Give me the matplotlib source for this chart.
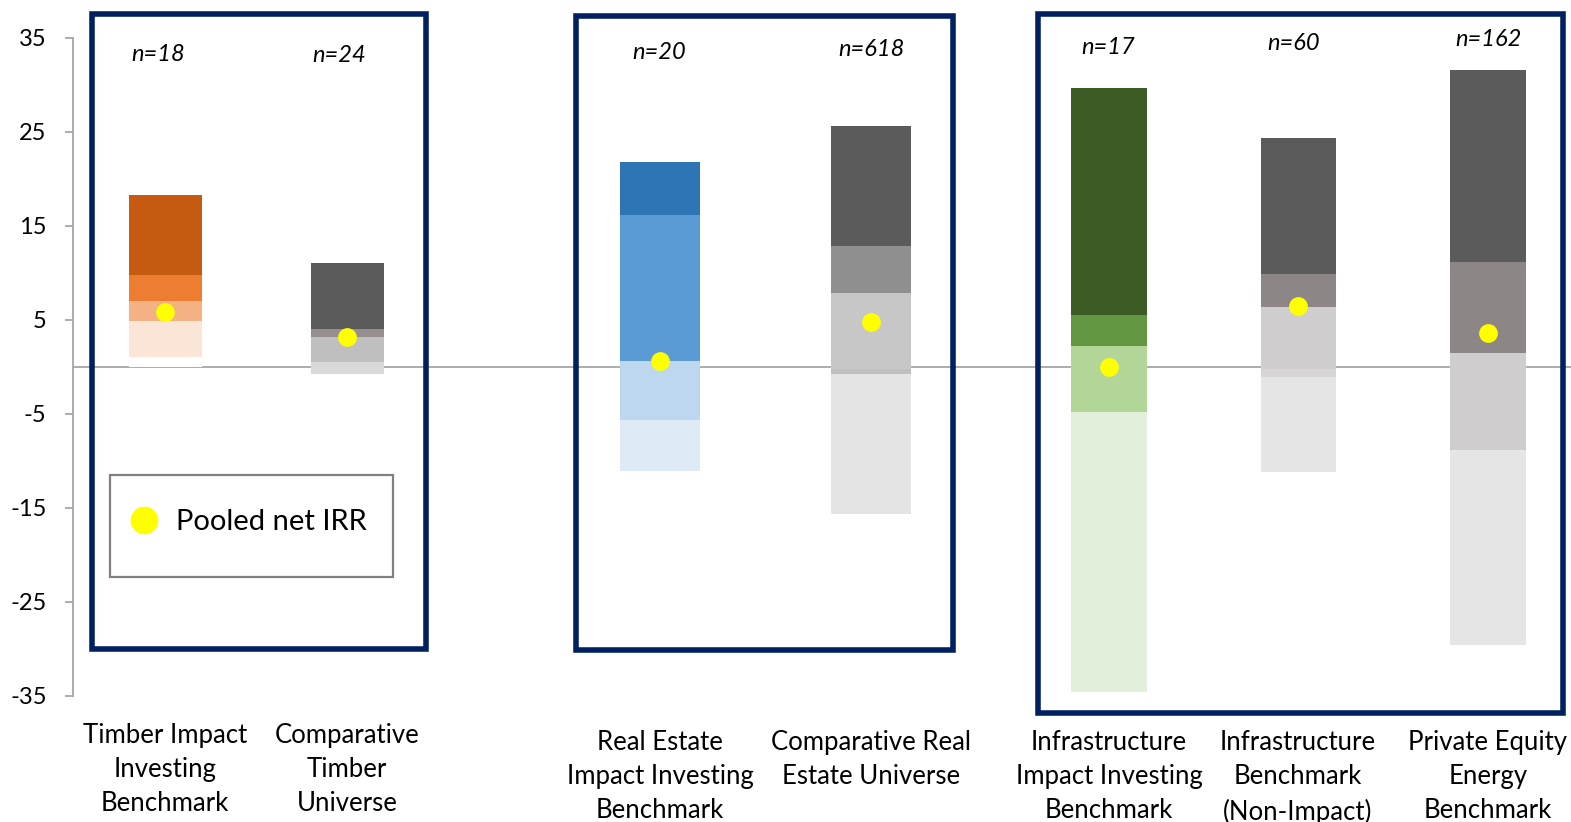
import matplotlib
matplotlib.use("Agg")
import matplotlib.pyplot as plt
from matplotlib.patches import Rectangle

plt.rcParams['font.family'] = ['Lato', 'DejaVu Sans']

# ---------------- data ----------------
categories = [
    "Timber Impact\nInvesting\nBenchmark",
    "Comparative\nTimber\nUniverse",
    "Real Estate\nImpact Investing\nBenchmark",
    "Comparative Real\nEstate Universe",
    "Infrastructure\nImpact Investing\nBenchmark",
    "Infrastructure\nBenchmark\n(Non-Impact)",
    "Private Equity\nEnergy\nBenchmark",
]
n_counts = [18, 24, 20, 618, 17, 60, 162]

# segment boundaries (bottom -> top) for each bar
timber_impact = [0.0, 1.1, 4.9, 7.0, 9.8, 18.3]
comp_timber = [-0.8, 0.5, 3.2, 4.0, 11.0]
re_impact = [-11.1, -5.6, 0.6, 16.1, 21.8]
comp_re = [-15.6, -0.8, -0.2, 7.8, 12.9, 25.6]
infra_impact = [-34.6, -4.8, 2.2, 5.5, 29.6]
infra_nonimpact = [-11.2, -1.1, -0.25, 6.4, 9.9, 24.3]
pe_energy = [-29.6, -8.8, -0.25, 1.5, 11.1, 31.6]

pooled_irr = [5.8, 3.2, 0.6, 4.8, 0.0, 6.5, 3.65]

yticks = [35, 25, 15, 5, -5, -15, -25, -35]

# ---------------- styles ----------------
bounds = [timber_impact, comp_timber, re_impact, comp_re,
          infra_impact, infra_nonimpact, pe_energy]
seg_colors = [
    ["#ffffff", "#fbe5d6", "#f4b183", "#ed7d31", "#c55a11"],
    ["#d9d9d9", "#bfbfbf", "#968f8f", "#5a5a5a"],
    ["#deebf7", "#bdd7ee", "#5b9bd5", "#2e75b6"],
    ["#e4e4e4", "#bfbfbf", "#c8c7c8", "#8f8f8f", "#5b5b5b"],
    ["#e2efda", "#b2d698", "#629640", "#3b5a24"],
    ["#e5e5e5", "#d6d4d5", "#cfcdce", "#8c8686", "#5b5b5b"],
    ["#e5e5e5", "#cfcdce", "#cfcdce", "#8c8686", "#5b5b5b"],
]
xpos = [165, 347, 660, 871, 1109, 1298, 1488]
widths = [73, 73, 80, 80, 76, 75, 76]
label_top_px = [723, 723, 730, 730, 730, 730, 730]
n_pos = [(158, 33.2), (339, 33.1), (659, 33.4), (871, 33.7), (1108, 34.0), (1294, 34.4), (1488, 34.8)]

W, H = 1571, 822
fig = plt.figure(figsize=(W / 100, H / 100), dpi=100)
ax_top, ax_bot = 37.7, 696.0
ax = fig.add_axes([73 / W, 1 - ax_bot / H, (W - 73) / W, (ax_bot - ax_top) / H])
ax.set_xlim(73, W)
ax.set_ylim(-35, 35)


def py(v):
    # pixel row -> data value (layout helper for decorations only)
    return (367.0 - v) / 9.4


# zero line
ax.axhline(0, color="#a6a6a6", lw=1.3, zorder=1)

# bars
for x, w, b, cols in zip(xpos, widths, bounds, seg_colors):
    for i, c in enumerate(cols):
        ax.bar(x, b[i + 1] - b[i], bottom=b[i], width=w, color=c,
               linewidth=0, zorder=2)

# pooled IRR dots
ax.plot(xpos, pooled_irr, "o", color="#ffff00", ms=13.5, mew=0, zorder=5,
        linestyle="none")

# n labels
for (x, y), n in zip(n_pos, n_counts):
    ax.text(x, y, f"n={n}", ha="center", va="center", fontsize=17,
            style="italic", color="black")

# category labels
for x, yp, lab in zip(xpos, label_top_px, categories):
    ax.text(x, py(yp), lab, ha="center", va="top", fontsize=18.5,
            linespacing=1.46, clip_on=False)

# group boxes
box_px = [(92, 14.5, 426, 649), (576, 16, 953, 650), (1037.5, 14.5, 1563, 713)]
for x0, y0, x1, y1 in box_px:
    ax.add_patch(Rectangle((x0, py(y1)), x1 - x0, py(y0) - py(y1), fill=False,
                           edgecolor="#002060", lw=4, clip_on=False, zorder=6))

# legend
ax.add_patch(Rectangle((110, py(577)), 283, py(475) - py(577), fill=True,
                       facecolor="white", edgecolor="#808080", lw=1.6,
                       clip_on=False, zorder=6))
ax.plot([144], [py(520)], "o", color="#ffff00", ms=20, mew=0, zorder=7,
        clip_on=False)
ax.text(176, py(522), "Pooled net IRR", fontsize=21, va="center", ha="left",
        zorder=7)

# axes styling
for s in ["top", "right", "bottom"]:
    ax.spines[s].set_visible(False)
ax.spines["left"].set_color("#a6a6a6")
ax.spines["left"].set_linewidth(1.3)
ax.set_yticks(yticks)
ax.set_yticklabels([str(t) for t in yticks])
ax.tick_params(axis="y", length=6, width=1.3, color="#a6a6a6", pad=13,
               labelsize=17)
ax.set_xticks([])
ax.patch.set_alpha(0)

fig.savefig("out.png", dpi=100)
